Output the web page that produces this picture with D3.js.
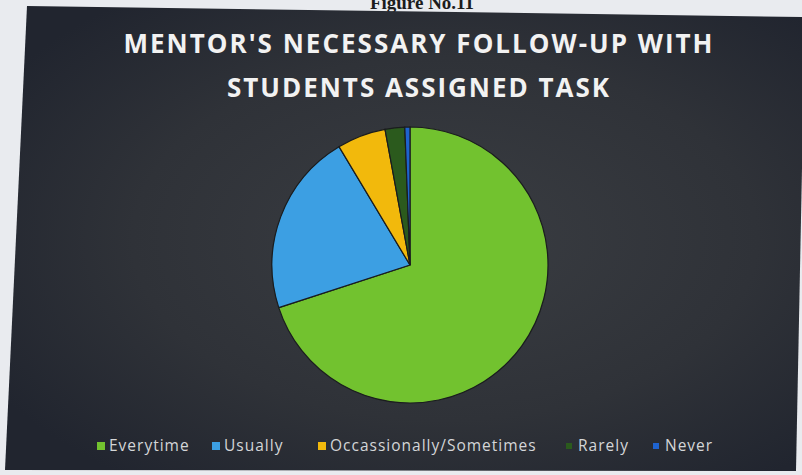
<!DOCTYPE html>
<html>
<head>
<meta charset="utf-8">
<script src="https://cdn.jsdelivr.net/npm/d3@7"></script>
<style>
  html, body { margin: 0; padding: 0; background: #e9ebef; }
  svg { display: block; }
</style>
</head>
<body>
<svg id="chart" width="802" height="475"></svg>
<script>
// data (percent of responses)
var categories = ['Everytime', 'Usually', 'Occassionally/Sometimes', 'Rarely', 'Never'];
var values = [70, 21.4, 5.7, 2.3, 0.6];
var colors = ['#72c22f', '#3c9fe3', '#f2b90c', '#2b5a1d', '#1e63cf'];
var titleLines = ["MENTOR'S NECESSARY FOLLOW-UP WITH", 'STUDENTS ASSIGNED TASK'];

var svg = d3.select('#chart');

// photographed page: caption above the dark chart panel (cut by the photo edge)
svg.append('text')
    .attr('x', 422).attr('y', 9)
    .attr('text-anchor', 'middle')
    .attr('font-family', 'Liberation Serif, serif')
    .attr('font-weight', 'bold')
    .attr('font-size', 19)
    .attr('fill', '#1c1c1c')
    .text('Figure No.11');

var defs = svg.append('defs');
var grad = defs.append('radialGradient').attr('id', 'bg')
    .attr('cx', '55%').attr('cy', '50%').attr('r', '65%');
grad.append('stop').attr('offset', '0%').attr('stop-color', '#3a3d42');
grad.append('stop').attr('offset', '60%').attr('stop-color', '#2f3238');
grad.append('stop').attr('offset', '100%').attr('stop-color', '#21252f');

// panel is slightly skewed in the photo
svg.append('path')
    .attr('d', 'M27,6 L805,17 L796,471 L5,470 Z')
    .attr('fill', 'url(#bg)');

// title
svg.append('g').selectAll('text')
    .data(titleLines)
    .enter().append('text')
    .attr('x', 418)
    .attr('y', (d, i) => 53 + i * 44)
    .attr('text-anchor', 'middle')
    .attr('font-family', 'Open Sans, sans-serif')
    .attr('font-weight', 'bold')
    .attr('font-size', 26)
    .attr('fill', '#f2f2f2')
    .attr('textLength', (d, i) => i === 0 ? 589 : 382)
    .attr('lengthAdjust', 'spacing')
    .text(d => d);

// pie
var cx = 410, cy = 265, radius = 138;
var pie = d3.pie().sort(null).value(d => d.value);
var arc = d3.arc().innerRadius(0).outerRadius(radius);
var slices = categories.map((c, i) => ({ name: c, value: values[i], color: colors[i] }));

var pieG = svg.append('g').attr('transform', `translate(${cx}, ${cy})`);
pieG.selectAll('path')
    .data(pie(slices))
    .enter().append('path')
    .attr('d', arc)
    .attr('fill', d => d.data.color)
    .attr('stroke', '#1a1c1e')
    .attr('stroke-width', 1.2);

// legend
var legendX = [97, 212, 318, 566, 653];
var legend = svg.append('g').attr('transform', 'translate(0, 446)');
var item = legend.selectAll('g')
    .data(slices)
    .enter().append('g')
    .attr('transform', (d, i) => `translate(${legendX[i]}, 0)`);
item.append('rect')
    .attr('x', 0).attr('y', (d, i) => i > 2 ? -3 : -4)
    .attr('width', (d, i) => i > 2 ? 6 : 8)
    .attr('height', (d, i) => i > 2 ? 6 : 8)
    .attr('fill', d => d.color);
item.append('text')
    .attr('x', 12)
    .attr('y', 5)
    .attr('font-family', 'Open Sans, sans-serif')
    .attr('font-size', 15.5)
    .attr('letter-spacing', 1)
    .attr('fill', '#d4d6d8')
    .text(d => d.name);
</script>
</body>
</html>
